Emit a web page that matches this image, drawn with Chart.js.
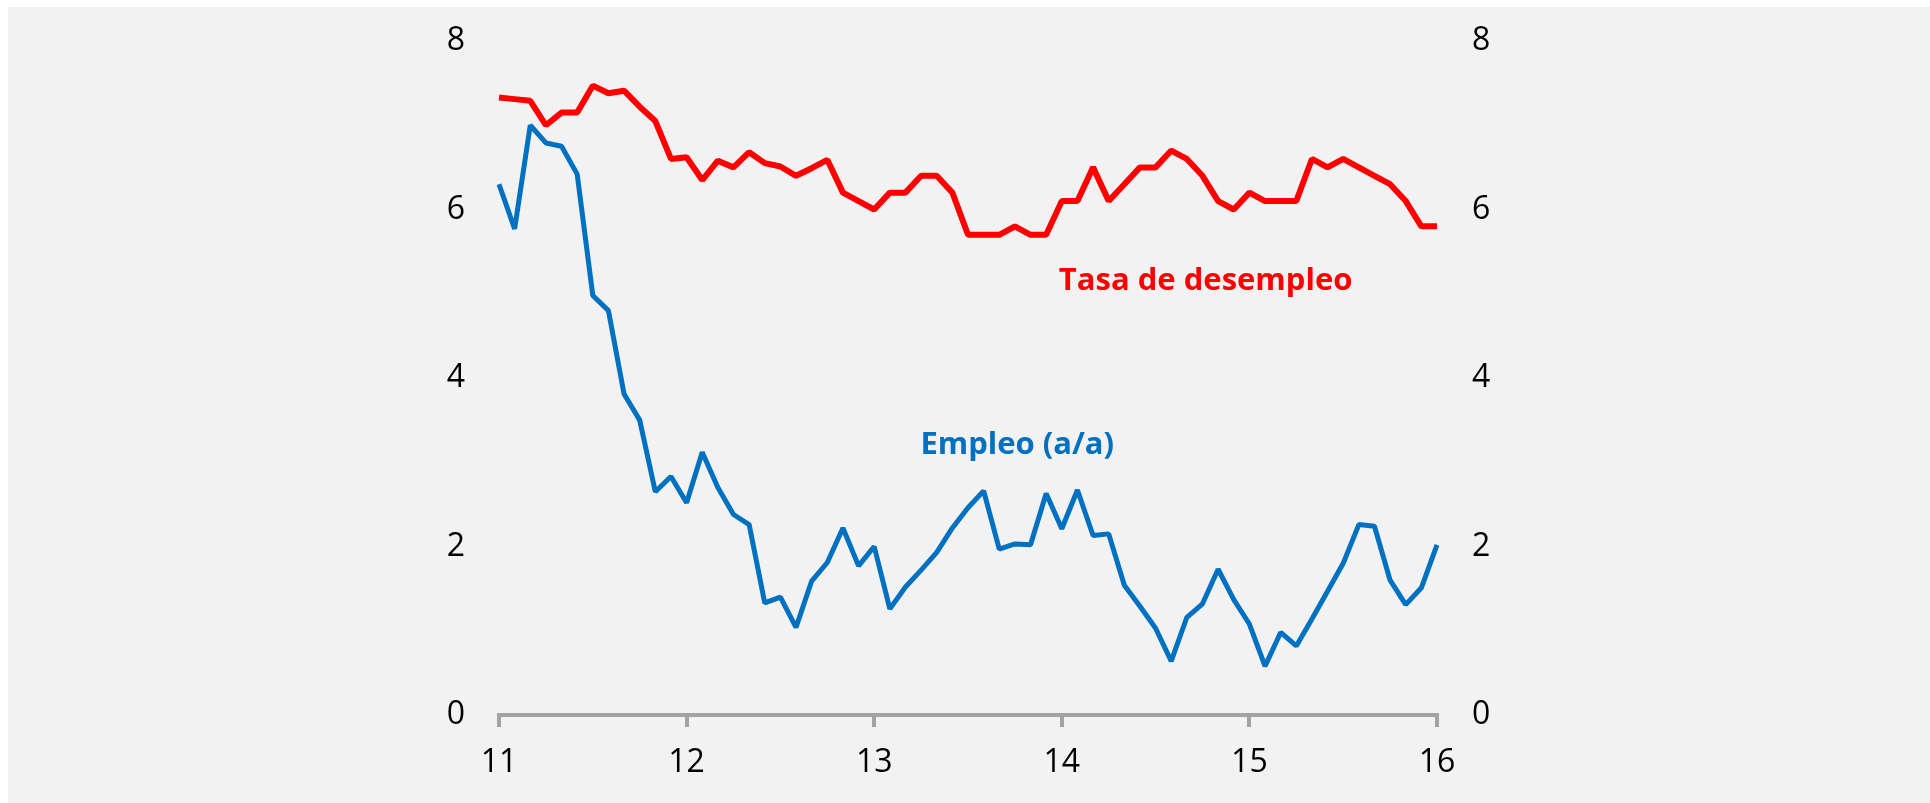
<!DOCTYPE html>
<html>
<head>
<meta charset="utf-8">
<script src="https://cdn.jsdelivr.net/npm/chart.js@4.4.1/dist/chart.umd.min.js"></script>
<style>
html, body { margin: 0; padding: 0; background: #fff; }
#chart { display: block; }
</style>
</head>
<body>
<canvas id="chart" width="1930" height="803"></canvas>
<script>
// tick labels on the x axis (one per January)
const yearLabels = ['11', '12', '13', '14', '15', '16'];
const monthNames = ['ene', 'feb', 'mar', 'abr', 'may', 'jun', 'jul', 'ago', 'sep', 'oct', 'nov', 'dic'];

// monthly categories, ene-11 .. ene-16
const categories = [];
yearLabels.forEach(function (yr, i) {
    monthNames.forEach(function (m, j) {
        if (i < yearLabels.length - 1 || j === 0) categories.push(m + '-' + yr);
    });
});

// tasa de desempleo (%)
const desempleo = [
    7.33, 7.31, 7.29, 7.0, 7.15, 7.15, 7.47, 7.38, 7.41, 7.22, 7.05, 6.6,
    6.62, 6.35, 6.58, 6.5, 6.68, 6.55, 6.51, 6.4, 6.49, 6.59, 6.2, 6.1,
    6.0, 6.2, 6.2, 6.4, 6.4, 6.2, 5.7, 5.7, 5.7, 5.8, 5.7, 5.7,
    6.1, 6.1, 6.5, 6.1, 6.3, 6.5, 6.5, 6.7, 6.6, 6.4, 6.1, 6.0,
    6.2, 6.1, 6.1, 6.1, 6.6, 6.5, 6.6, 6.5, 6.4, 6.3, 6.1, 5.8,
    5.8
];

// empleo, variacion anual (%)
const empleo = [
    6.30, 5.77, 7.0, 6.79, 6.75, 6.42, 4.98, 4.80, 3.81, 3.50, 2.65, 2.83,
    2.52, 3.12, 2.70, 2.38, 2.26, 1.33, 1.40, 1.04, 1.59, 1.81, 2.22, 1.77,
    2.0, 1.26, 1.52, 1.72, 1.93, 2.22, 2.46, 2.66, 1.97, 2.03, 2.02, 2.63,
    2.21, 2.67, 2.13, 2.15, 1.54, 1.29, 1.03, 0.64, 1.16, 1.32, 1.73, 1.37,
    1.08, 0.58, 0.98, 0.82, 1.14, 1.47, 1.80, 2.26, 2.24, 1.60, 1.31, 1.51,
    2.02
];

const RED = '#ff0000';
const BLUE = '#0070c0';
const AXIS_GREY = '#a3a3a3';
const tickFont = { family: 'Open Sans', size: 32 };

// page background: white frame at top/left, light grey panel
const backgroundPlugin = {
    id: 'panel',
    beforeDraw(chart) {
        const c = chart.ctx;
        c.save();
        c.fillStyle = '#ffffff';
        c.fillRect(0, 0, chart.width, chart.height);
        c.fillStyle = '#f2f2f2';
        c.fillRect(8, 7, chart.width - 8, chart.height - 7);
        c.restore();
    }
};

// series names written next to the lines
const seriesLabels = {
    id: 'seriesLabels',
    afterDatasetsDraw(chart, args, opts) {
        const c = chart.ctx;
        const xs = chart.scales.x;
        const ys = chart.scales.y;
        c.save();
        c.textAlign = 'center';
        c.textBaseline = 'alphabetic';
        opts.items.forEach(function (it) {
            c.font = 'bold ' + opts.size + 'px "Open Sans"';
            c.fillStyle = it.color;
            c.fillText(it.text, xs.getPixelForValue(it.at), ys.getPixelForValue(it.value));
        });
        c.restore();
    }
};

new Chart(document.getElementById('chart'), {
    type: 'line',
    data: {
        labels: categories,
        datasets: [
            {
                label: 'Tasa de desempleo',
                data: desempleo,
                yAxisID: 'y1',
                borderColor: RED,
                borderWidth: 6,
                borderJoinStyle: 'bevel',
                pointRadius: 0,
                tension: 0,
                fill: false
            },
            {
                label: 'Empleo (a/a)',
                data: empleo,
                yAxisID: 'y',
                borderColor: BLUE,
                borderWidth: 5,
                borderJoinStyle: 'bevel',
                pointRadius: 0,
                tension: 0,
                fill: false
            }
        ]
    },
    options: {
        responsive: false,
        animation: false,
        devicePixelRatio: 1,
        layout: { padding: { top: 41, left: 0, right: 0, bottom: 0 } },
        plugins: {
            legend: { display: false },
            tooltip: { enabled: false },
            seriesLabels: {
                size: 31,
                items: [
                    { text: 'Tasa de desempleo', color: RED, at: 45.2, value: 5.04 },
                    { text: 'Empleo (a/a)', color: BLUE, at: 33.15, value: 3.10 }
                ]
            }
        },
        scales: {
            x: {
                type: 'category',
                offset: false,
                afterFit(scale) { scale.height = 88; },
                border: { display: true, color: AXIS_GREY, width: 4 },
                grid: {
                    display: true,
                    drawOnChartArea: false,
                    drawTicks: true,
                    tickLength: 12,
                    color: AXIS_GREY,
                    lineWidth: 4
                },
                ticks: {
                    autoSkip: false,
                    maxRotation: 0,
                    padding: 17,
                    color: '#000',
                    font: tickFont,
                    callback: function (v, i) {
                        return i % 12 === 0 ? yearLabels[i / 12] : null;
                    }
                }
            },
            y: {
                position: 'left',
                min: 0,
                max: 8,
                afterFit(scale) { scale.width = 499; },
                border: { display: false },
                grid: { display: false, tickLength: 34 },
                ticks: { stepSize: 2, padding: 0, color: '#000', font: tickFont }
            },
            y1: {
                position: 'right',
                min: 0,
                max: 8,
                afterFit(scale) { scale.width = 493; },
                border: { display: false },
                grid: { display: false, tickLength: 35 },
                ticks: { stepSize: 2, padding: 0, color: '#000', font: tickFont }
            }
        }
    },
    plugins: [backgroundPlugin, seriesLabels]
});
</script>
</body>
</html>
